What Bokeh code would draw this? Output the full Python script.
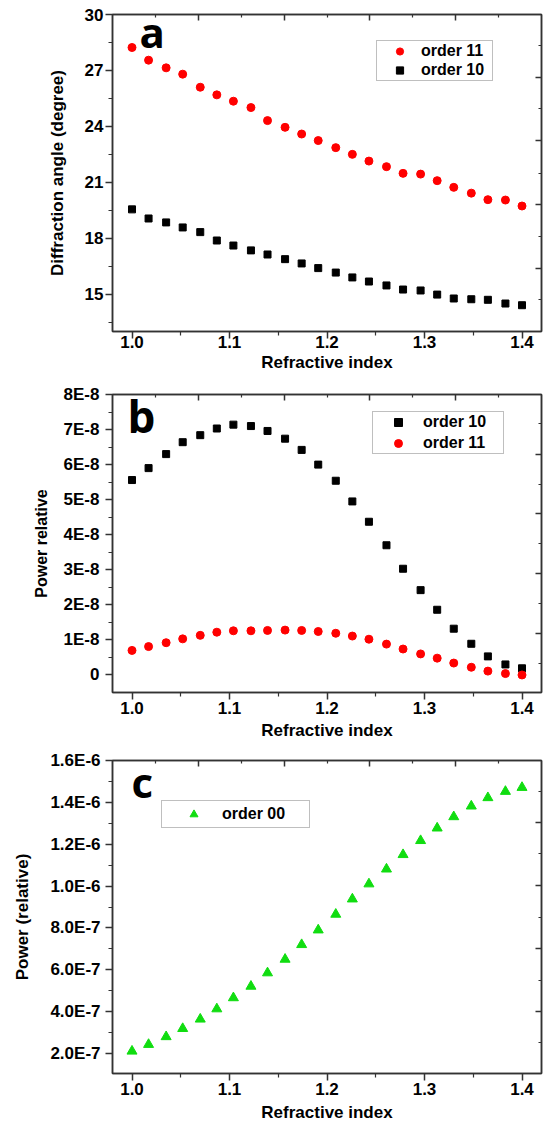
from bokeh.plotting import figure
from bokeh.layouts import column
from bokeh.models import (LinearAxis, FixedTicker, Legend, LegendItem, Label,
                          Range1d, CustomJSTickFormatter, NumeralTickFormatter)
from bokeh.embed import file_html
from bokeh.resources import INLINE

# ---------------- data ----------------
refractive_index = [1.000, 1.017, 1.035, 1.052, 1.070, 1.087, 1.104, 1.122,
                    1.139, 1.157, 1.174, 1.191, 1.209, 1.226, 1.243, 1.261,
                    1.278, 1.296, 1.313, 1.330, 1.348, 1.365, 1.383, 1.400]

angle_order11 = [28.23, 27.55, 27.14, 26.80, 26.10, 25.69, 25.35, 25.01,
                 24.31, 23.95, 23.59, 23.24, 22.86, 22.50, 22.14, 21.84,
                 21.48, 21.44, 21.09, 20.73, 20.42, 20.07, 20.05, 19.73]
angle_order10 = [19.55, 19.06, 18.85, 18.58, 18.33, 17.88, 17.61, 17.35,
                 17.13, 16.88, 16.65, 16.40, 16.16, 15.90, 15.68, 15.47,
                 15.25, 15.20, 14.98, 14.77, 14.73, 14.70, 14.50, 14.41]

power_order10 = [5.56e-8, 5.90e-8, 6.30e-8, 6.64e-8, 6.84e-8, 7.03e-8, 7.14e-8, 7.10e-8,
                 6.96e-8, 6.74e-8, 6.42e-8, 6.00e-8, 5.54e-8, 4.95e-8, 4.37e-8, 3.70e-8,
                 3.03e-8, 2.42e-8, 1.86e-8, 1.32e-8, 0.89e-8, 0.53e-8, 0.30e-8, 0.19e-8]
power_order11 = [0.70e-8, 0.81e-8, 0.92e-8, 1.03e-8, 1.13e-8, 1.22e-8, 1.26e-8, 1.26e-8,
                 1.27e-8, 1.28e-8, 1.27e-8, 1.24e-8, 1.19e-8, 1.11e-8, 1.02e-8, 0.88e-8,
                 0.74e-8, 0.60e-8, 0.48e-8, 0.34e-8, 0.22e-8, 0.11e-8, 0.04e-8, 0.00e-8]

power_order00 = [0.211e-6, 0.243e-6, 0.280e-6, 0.319e-6, 0.364e-6, 0.413e-6, 0.466e-6, 0.521e-6,
                 0.585e-6, 0.650e-6, 0.720e-6, 0.790e-6, 0.865e-6, 0.938e-6, 1.010e-6, 1.081e-6,
                 1.150e-6, 1.217e-6, 1.277e-6, 1.331e-6, 1.382e-6, 1.422e-6, 1.452e-6, 1.471e-6]

x_ticks = [1.0, 1.1, 1.2, 1.3, 1.4]
x_minor = [1.05, 1.15, 1.25, 1.35]
angle_ticks = [15, 18, 21, 24, 27, 30]
angle_minor = [13.5, 16.5, 19.5, 22.5, 25.5, 28.5]
power_b_ticks = [0, 1e-8, 2e-8, 3e-8, 4e-8, 5e-8, 6e-8, 7e-8, 8e-8]
power_b_minor = [0.5e-8, 1.5e-8, 2.5e-8, 3.5e-8, 4.5e-8, 5.5e-8, 6.5e-8, 7.5e-8]
power_c_ticks = [2e-7, 4e-7, 6e-7, 8e-7, 1.0e-6, 1.2e-6, 1.4e-6, 1.6e-6]
power_c_minor = [3e-7, 5e-7, 7e-7, 9e-7, 1.1e-6, 1.3e-6, 1.5e-6]

# ---------------- style ----------------
W = 547
FONT = "Liberation Sans"
AX = "#333333"
RED = "#ff0000"
BLACK = "#000000"
GREEN = "#10dd10"


def base_fig(h, top, bottom, left, right, y0, y1, yticks, yminor, ylabel,
             ylab_standoff, ytick_standoff, xtick_standoff, xlab_standoff,
             ylab_size="17px"):
    p = figure(width=W, height=h, x_range=Range1d(0.98, 1.42), y_range=Range1d(y0, y1),
               output_backend="svg", toolbar_location=None,
               min_border_top=top, min_border_bottom=bottom,
               min_border_left=left, min_border_right=right)
    p.grid.visible = False
    p.outline_line_color = AX
    p.outline_line_width = 1.5
    p.background_fill_color = "white"
    p.border_fill_color = "white"
    for ax in (p.xaxis[0], p.yaxis[0]):
        ax.axis_line_color = AX
        ax.axis_line_width = 1.5
        ax.major_tick_line_color = AX
        ax.major_tick_line_width = 1.5
        ax.major_tick_out = 7
        ax.major_tick_in = 0
        ax.minor_tick_line_color = AX
        ax.minor_tick_line_width = 1.2
        ax.minor_tick_out = 4
        ax.minor_tick_in = 0
        ax.major_label_text_font = FONT
        ax.major_label_text_font_style = "bold"
        ax.major_label_text_font_size = "17px"
        ax.major_label_text_color = "black"
        ax.axis_label_text_font = FONT
        ax.axis_label_text_font_style = "bold"
        ax.axis_label_text_font_size = "17px"
        ax.axis_label_text_color = "black"
    xa = p.xaxis[0]
    xa.ticker = FixedTicker(ticks=x_ticks, minor_ticks=x_minor)
    xa.formatter = NumeralTickFormatter(format="0.0")
    xa.axis_label = "Refractive index"
    xa.major_label_standoff = xtick_standoff
    xa.axis_label_standoff = xlab_standoff
    ya = p.yaxis[0]
    ya.ticker = FixedTicker(ticks=yticks, minor_ticks=yminor)
    ya.axis_label = ylabel
    ya.axis_label_text_font_size = ylab_size
    ya.major_label_standoff = ytick_standoff
    ya.axis_label_standoff = ylab_standoff
    return p


def mirror_axes(p, top_major, top_minor, right_major, right_minor):
    top = LinearAxis(ticker=FixedTicker(ticks=top_major, minor_ticks=top_minor))
    right = LinearAxis(ticker=FixedTicker(ticks=right_major, minor_ticks=right_minor))
    for ax in (top, right):
        ax.axis_line_color = AX
        ax.axis_line_width = 1.5
        ax.major_tick_line_color = AX
        ax.major_tick_line_width = 1.5
        ax.major_tick_in = 6
        ax.major_tick_out = 0
        ax.minor_tick_line_color = AX
        ax.minor_tick_line_width = 1.2
        ax.minor_tick_in = 3
        ax.minor_tick_out = 0
        ax.formatter = CustomJSTickFormatter(code="return '';")
        ax.major_label_standoff = 0
        ax.axis_label_standoff = 0
    p.add_layout(top, "above")
    p.add_layout(right, "right")


def legend_style(lg, size):
    lg.border_line_color = "#808080"
    lg.border_line_width = 1
    lg.background_fill_color = "white"
    lg.background_fill_alpha = 1
    lg.label_text_font = FONT
    lg.label_text_font_style = "bold"
    lg.label_text_font_size = size
    lg.label_text_color = "black"
    lg.margin = 0


def panel_letter(p, text, x, y, size):
    p.add_layout(Label(x=x, y=y, x_units="screen", y_units="screen", text=text,
                       text_font="Open Sans", text_font_style="bold",
                       text_font_size=size, text_color="black",
                       text_baseline="alphabetic", text_align="left"))


TOP_MAJOR = [1.068, 1.156, 1.244, 1.332]
TOP_MINOR = [1.0245, 1.112, 1.2, 1.288, 1.376]

# ---------------- panel a ----------------
pa = base_fig(375, 14, 44, 110, 6, 13, 30, angle_ticks, angle_minor,
              "Diffraction angle (degree)", 15, 2, -3, 2)
mirror_axes(pa, TOP_MAJOR, TOP_MINOR,
            [26.63, 23.24, 19.8, 16.4], [28.34, 24.94, 21.5, 18.1, 14.73])
ra11 = pa.scatter(refractive_index, angle_order11, marker="circle", size=8,
                  fill_color=RED, line_color=RED)
ra10 = pa.scatter(refractive_index, angle_order10, marker="square", size=7,
                  fill_color=BLACK, line_color=BLACK)
lga = Legend(items=[LegendItem(label="order 11", renderers=[ra11]),
                    LegendItem(label="order 10", renderers=[ra10])],
             location=(264, 250), padding=1, spacing=1, glyph_width=43,
             glyph_height=18, label_height=18, label_standoff=-5, label_width=70)
legend_style(lga, "16px")
pa.add_layout(lga)
panel_letter(pa, "a", 27, 300, "42px")

# ---------------- panel b ----------------
pb = base_fig(368, 19, 51, 107, 3, -0.5e-8, 8e-8, power_b_ticks, power_b_minor,
              "Power relative", 11, 6, 2, 4, ylab_size="16px")
pb.yaxis[0].formatter = CustomJSTickFormatter(
    code="return Math.abs(tick) < 1e-15 ? '0' : Math.round(tick * 1e8) + 'E-8';")
mirror_axes(pb, TOP_MAJOR, TOP_MINOR,
            [6.29e-8, 4.6e-8, 2.89e-8, 1.18e-8],
            [7.17e-8, 5.44e-8, 3.75e-8, 2.05e-8, 0.34e-8])
rb10 = pb.scatter(refractive_index, power_order10, marker="square", size=7,
                  fill_color=BLACK, line_color=BLACK)
rb11 = pb.scatter(refractive_index, power_order11, marker="circle", size=8,
                  fill_color=RED, line_color=RED)
lgb = Legend(items=[LegendItem(label="order 10", renderers=[rb10]),
                    LegendItem(label="order 11", renderers=[rb11])],
             location=(260, 238), padding=0, spacing=1, glyph_width=50,
             glyph_height=20, label_height=20, label_standoff=-5, label_width=80)
legend_style(lgb, "16px")
pb.add_layout(lgb)
panel_letter(pb, "b", 15, 277, "44px")

# ---------------- panel c ----------------
pc = base_fig(384, 17, 54, 112, 6, 1.045e-7, 1.6e-6, power_c_ticks, power_c_minor,
              "Power (relative)", 15, 5, 2, 5)
pc.yaxis[0].formatter = CustomJSTickFormatter(
    code="""
    const e = Math.floor(Math.log10(tick * 1.000001));
    const m = tick / Math.pow(10, e);
    return m.toFixed(1) + 'E' + e;
    """)
mirror_axes(pc, TOP_MAJOR, TOP_MINOR,
            [1.304e-6, 1.004e-6, 0.701e-6, 0.402e-6],
            [1.452e-6, 1.155e-6, 0.852e-6, 0.55e-6, 0.251e-6])
rc00 = pc.scatter(refractive_index, power_order00, marker="triangle", size=10,
                  fill_color=GREEN, line_color=GREEN)
lgc = Legend(items=[LegendItem(label="order 00", renderers=[rc00])],
             location=(49, 245), padding=3, spacing=0, glyph_width=57,
             glyph_height=20, label_height=20, label_standoff=-9, label_width=84)
legend_style(lgc, "16px")
pc.add_layout(lgc)
panel_letter(pc, "c", 19, 292, "42px")

layout = column(pa, pb, pc, spacing=0)
open("out.html", "w").write(file_html(layout, INLINE))
